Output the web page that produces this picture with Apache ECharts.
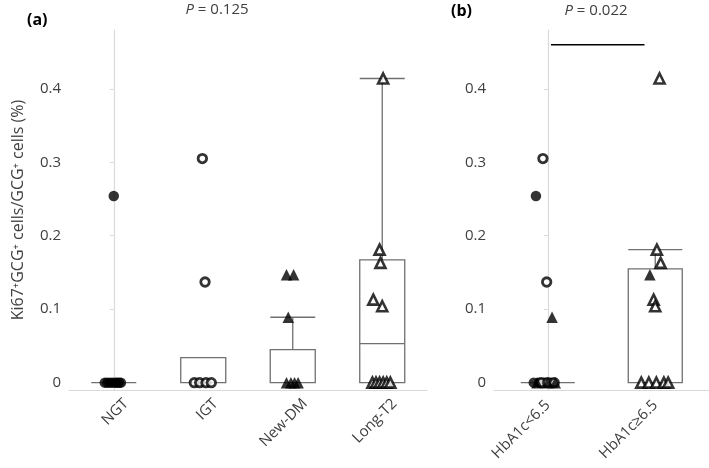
<!DOCTYPE html>
<html><head><meta charset="utf-8">
<script src="https://cdn.jsdelivr.net/npm/echarts@6/dist/echarts.min.js"></script>
<style>html,body{margin:0;padding:0;background:#fff}#c{width:709px;height:468px}</style>
</head><body><div id="c"></div>
<script>
// ---------- data ----------
const catsA = ['NGT', 'IGT', 'New-DM', 'Long-T2'];
const catsB = ['HbA1c<6.5', 'HbA1c≥6.5'];
const yTicks = [0, 0.1, 0.2, 0.3, 0.4];
const pA = '0.125';
const pB = '0.022';
// box stats [min, Q1, median, Q3, max]
const boxA = [[0,0,0,0,0],[0,0,0,0.034,0.034],[0,0,0,0.045,0.089],[0,0,0.053,0.167,0.414]];
const boxB = [[0,0,0,0,0],[0,0,0,0.155,0.181]];
// panel (a) points (value, horizontal jitter in category units)
const ngtVals = [0.254, 0, 0, 0, 0, 0, 0, 0, 0];
const ngtJit  = [0, -0.10, -0.07, -0.04, -0.01, 0.02, 0.04, 0.06, 0.08];
const igtVals = [0.305, 0.137, 0, 0, 0, 0];
const igtJit  = [-0.01, 0.02, -0.10, -0.04, 0.03, 0.09];
const newVals = [0.147, 0.147, 0.089, 0, 0, 0, 0];
const newJit  = [-0.07, 0.01, -0.05, -0.07, -0.02, 0.02, 0.06];
const longVals = [0.414, 0.181, 0.163, 0.113, 0.104, 0, 0, 0, 0, 0, 0];
const longJit  = [0.01, -0.03, -0.02, -0.10, 0.0, -0.11, -0.07, -0.03, 0.01, 0.05, 0.09];
// panel (b) points
const lowCircFVals = [0.254, 0, 0, 0, 0];
const lowCircFJit  = [-0.11, -0.13, -0.08, -0.03, 0.03];
const lowCircOVals = [0.305, 0.137, 0, 0, 0];
const lowCircOJit  = [-0.045, -0.01, -0.06, 0.0, 0.06];
const lowTriFVals  = [0.089, 0, 0, 0];
const lowTriFJit   = [0.04, -0.10, 0.0, 0.07];
const highTriFVals = [0.147];
const highTriFJit  = [-0.05];
const highTriOVals = [0.414, 0.181, 0.163, 0.113, 0.104, 0, 0, 0, 0, 0];
const highTriOJit  = [0.04, 0.015, 0.05, -0.015, 0.0, -0.13, -0.06, 0.01, 0.08, 0.12];
const sigBar = [[0.03, 0.46], [0.9, 0.46]];

// ---------- chart ----------
const FONT = "'Open Sans', 'Noto Sans', sans-serif";
const TXT = '#404040';
const AXC = '#d9d9d9';
const BOXC = '#707070';
function pts(cat, vals, jit) { return vals.map((v, i) => [cat + jit[i], v]); }
const styles = {
  circF: { symbol: 'circle', symbolSize: 10.5, itemStyle: { color: '#000' } },
  circO: { symbol: 'circle', symbolSize: 8.5, itemStyle: { color: '#fff', borderColor: '#000', borderWidth: 2.8 } },
  triF:  { symbol: 'triangle', symbolSize: 11.5, itemStyle: { color: '#000' } },
  triO:  { symbol: 'triangle', symbolSize: 10, itemStyle: { color: '#fff', borderColor: '#000', borderWidth: 2.6 } }
};
function sc(xi, yi, data, st) {
  return Object.assign({ type: 'scatter', xAxisIndex: xi, yAxisIndex: yi, data: data, z: 5, silent: true, animation: false }, JSON.parse(JSON.stringify(st)));
}
function yAx(grid, withName) {
  const a = {
    type: 'value', gridIndex: grid, min: -0.01, max: 0.48,
    axisLine: { show: true, lineStyle: { color: AXC, width: 1.2 } },
    axisTick: { show: true, length: 4, lineStyle: { color: AXC }, customValues: yTicks },
    axisLabel: { customValues: yTicks, color: TXT, fontSize: 15, fontFamily: FONT, margin: 8,
                 formatter: v => (Math.abs(v) < 1e-9 ? '0' : v.toFixed(1)) },
    splitLine: { show: false }
  };
  if (withName) {
    a.name = 'Ki67⁺GCG⁺ cells/GCG⁺ cells (%)';
    a.nameLocation = 'middle';
    a.nameGap = 43;
    a.nameTextStyle = { color: TXT, fontSize: 16, fontFamily: FONT };
  }
  return a;
}
function xCat(grid, cats, lbl) {
  return {
    type: 'category', gridIndex: grid, data: cats,
    axisLine: { show: true, onZero: false, lineStyle: { color: AXC, width: 1.2 } },
    axisTick: { show: false },
    axisLabel: Object.assign({ rotate: 45, color: TXT, fontSize: 15, fontFamily: FONT, interval: 0 }, lbl)
  };
}
const option = {
  animation: false,
  backgroundColor: '#fff',
  grid: [
    { left: 69, top: 30, width: 358, height: 360 },
    { left: 494, top: 30, width: 215, height: 360 }
  ],
  xAxis: [
    xCat(0, catsA, { margin: 6, verticalAlign: 'top', padding: [5, -5, 0, 0] }),
    { type: 'value', gridIndex: 0, min: -0.5, max: catsA.length - 0.5, show: false },
    xCat(1, catsB, { margin: 13 }),
    { type: 'value', gridIndex: 1, min: -0.5, max: catsB.length - 0.5, show: false }
  ],
  yAxis: [yAx(0, true), yAx(1, false)],
  graphic: [
    { type: 'text', left: 27, top: 12, style: { text: '(a)', font: 'bold 16px ' + FONT, fill: '#000' } },
    { type: 'text', x: 217, y: 10, style: { text: '{i|P} = ' + pA, fill: TXT, font: '15px ' + FONT, align: 'center', verticalAlign: 'middle',
        rich: { i: { fontStyle: 'italic', fontSize: 15, fontFamily: FONT, fill: TXT } } } },
    { type: 'text', left: 451, top: 3, style: { text: '(b)', font: 'bold 16px ' + FONT, fill: '#000' } },
    { type: 'text', x: 596, y: 11, style: { text: '{i|P} = ' + pB, fill: TXT, font: '15px ' + FONT, align: 'center', verticalAlign: 'middle',
        rich: { i: { fontStyle: 'italic', fontSize: 15, fontFamily: FONT, fill: TXT } } } }
  ],
  series: [
    { type: 'boxplot', xAxisIndex: 0, yAxisIndex: 0, data: boxA, boxWidth: [45, 45], silent: true, z: 2,
      itemStyle: { color: '#fff', borderColor: BOXC, borderWidth: 1.3 } },
    { type: 'boxplot', xAxisIndex: 2, yAxisIndex: 1, data: boxB, boxWidth: [54, 54], silent: true, z: 2,
      itemStyle: { color: '#fff', borderColor: BOXC, borderWidth: 1.3 } },
    sc(1, 0, pts(0, ngtVals, ngtJit), styles.circF),
    sc(1, 0, pts(1, igtVals, igtJit), styles.circO),
    sc(1, 0, pts(2, newVals, newJit), styles.triF),
    sc(1, 0, pts(3, longVals, longJit), styles.triO),
    sc(3, 1, pts(0, lowCircFVals, lowCircFJit), styles.circF),
    sc(3, 1, pts(0, lowCircOVals, lowCircOJit), styles.circO),
    sc(3, 1, pts(0, lowTriFVals, lowTriFJit), styles.triF),
    sc(3, 1, pts(1, highTriOVals, highTriOJit), styles.triO),
    sc(3, 1, pts(1, highTriFVals, highTriFJit), styles.triF),
    { type: 'line', xAxisIndex: 3, yAxisIndex: 1, data: sigBar, symbol: 'none', silent: true,
      lineStyle: { color: '#000', width: 1.5 }, z: 6 }
  ]
};
const chart = echarts.init(document.getElementById('c'), null, { renderer: 'canvas' });
chart.setOption(option);
</script>
</body></html>
